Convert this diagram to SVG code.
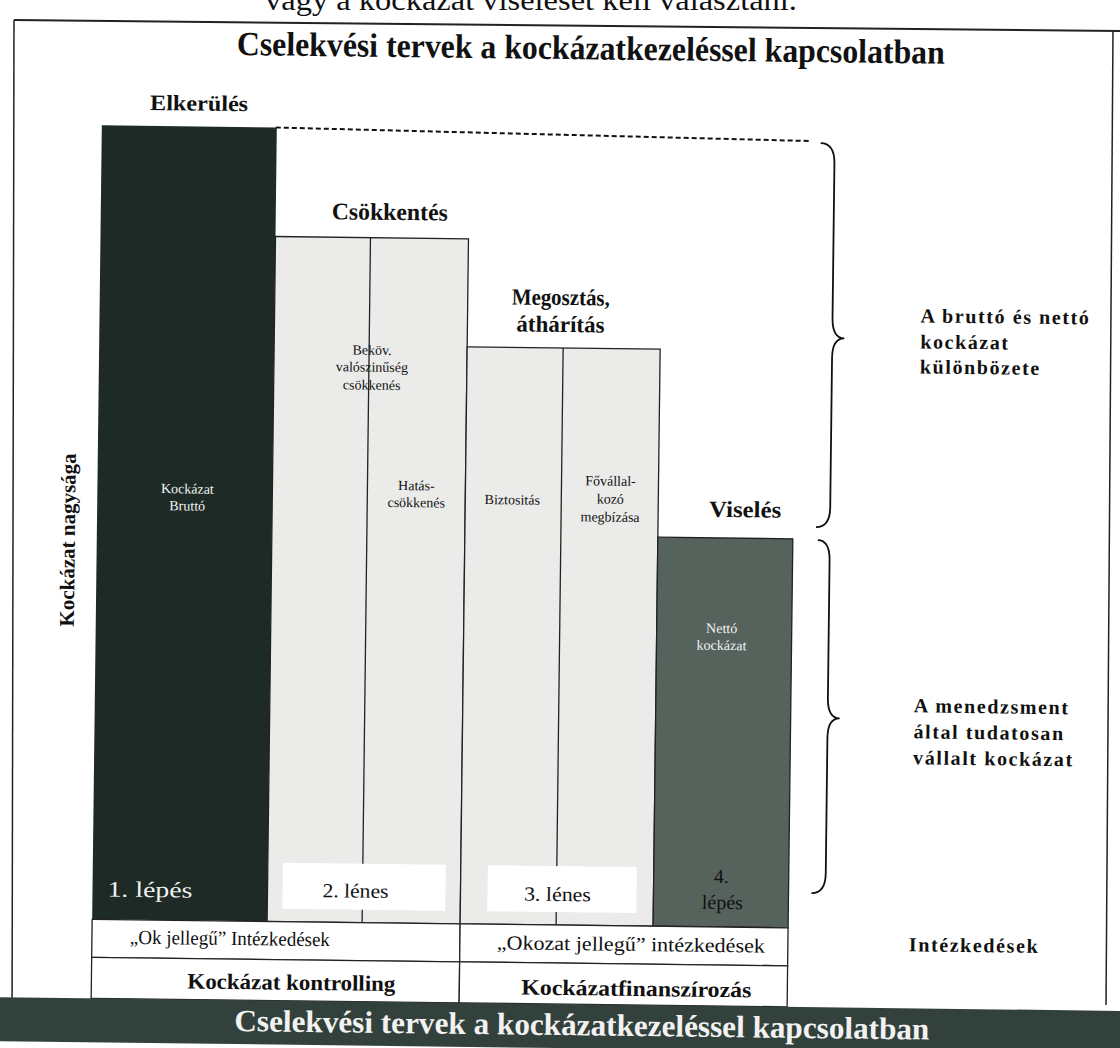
<svg xmlns="http://www.w3.org/2000/svg" width="1120" height="1048" viewBox="0 0 1120 1048">
<style>
  text { font-family: "Liberation Serif", "Times New Roman", serif; fill: #111; }
  .b { font-weight: bold; }
  .w { fill: #f2f2f2; }
  .bar-light { fill: #ebebea; stroke: #222; stroke-width: 1.3; }
  .cell { fill: #fff; stroke: #222; stroke-width: 1.3; }
  .brace { fill: none; stroke: #111; stroke-width: 1.8; }
  .mid { text-anchor: middle; }
  .rl { font-weight: bold; font-size: 20px; letter-spacing: 1.6px; }
</style>
<rect x="0" y="0" width="1120" height="1048" fill="#fff"/>
<text x="265" y="10" font-size="30" textLength="532" lengthAdjust="spacingAndGlyphs">vagy a kockázat viselését kell választani.</text>
<g id="frame">
  <line x1="14" y1="20" x2="1120" y2="31" stroke="#222" stroke-width="2"/>
  <line x1="14" y1="20" x2="12" y2="1040" stroke="#222" stroke-width="1.5"/>
  <line x1="1113" y1="31" x2="1106" y2="1005" stroke="#222" stroke-width="1.5"/>
</g>
<g transform="rotate(0.7 560 524)">
  <g id="title"><text class="b mid" x="585" y="59" font-size="34" textLength="708" lengthAdjust="spacingAndGlyphs">Cselekvési tervek a kockázatkezeléssel kapcsolatban</text></g>
  <g id="axis-label"><text class="b mid" transform="translate(75 546) rotate(-90)" font-size="21">Kockázat nagysága</text></g>
  <g id="label-elkerules"><text class="b" x="145" y="115" font-size="22" textLength="98" lengthAdjust="spacingAndGlyphs">Elkerülés</text></g>
  <g id="connectors">
    <line x1="271" y1="131" x2="805" y2="138" stroke="#111" stroke-width="2" stroke-dasharray="5 3"/>
    <path class="brace" d="M816,140 Q830,140 830,160 L830,315 Q830,335 842,335 Q830,335 830,355 L830,504 Q830,524 816,524"/>
    <path class="brace" d="M818,537 Q830,537 830,557 L830,695 Q830,715 842,715 Q830,715 830,735 L830,870 Q830,890 816,890"/>
  </g>
  <g id="bar-brutto">
    <rect x="97" y="131" width="175" height="794" fill="#1e2a26"/>
    <text class="w mid" x="187" y="498" font-size="14">Kockázat</text>
    <text class="w mid" x="187" y="515" font-size="14">Bruttó</text>
    <text class="w" x="112" y="902" font-size="22" textLength="85" lengthAdjust="spacingAndGlyphs">1. lépés</text>
  </g>
  <g id="bar-csokkentes">
    <text class="b mid" x="386" y="222" font-size="24" textLength="116" lengthAdjust="spacingAndGlyphs">Csökkentés</text>
    <rect class="bar-light" x="272" y="240" width="193" height="685"/>
    <line x1="367" y1="240" x2="367" y2="925" stroke="#222" stroke-width="1.3"/>
    <text class="mid" x="370" y="357" font-size="14">Beköv.</text>
    <text class="mid" x="370" y="374" font-size="14">valószinűség</text>
    <text class="mid" x="370" y="392" font-size="14">csökkenés</text>
    <text class="mid" x="416" y="492" font-size="14">Hatás-</text>
    <text class="mid" x="416" y="509" font-size="14">csökkenés</text>
    <rect x="287" y="866" width="163" height="46" fill="#fff"/>
    <text class="mid" x="360" y="900" font-size="20" textLength="66" lengthAdjust="spacingAndGlyphs">2. lénes</text>
  </g>
  <g id="bar-megosztas">
    <text class="b mid" x="558" y="305" font-size="23" textLength="98" lengthAdjust="spacingAndGlyphs">Megosztás,</text>
    <text class="b mid" x="558" y="332" font-size="23" textLength="88" lengthAdjust="spacingAndGlyphs">áthárítás</text>
    <rect class="bar-light" x="465" y="348" width="193" height="577"/>
    <line x1="561" y1="348" x2="561" y2="925" stroke="#222" stroke-width="1.3"/>
    <text class="mid" x="512" y="505" font-size="14">Biztositás</text>
    <text class="mid" x="610" y="485" font-size="14">Fővállal-</text>
    <text class="mid" x="610" y="503" font-size="14">kozó</text>
    <text class="mid" x="610" y="521" font-size="14">megbízása</text>
    <rect x="492" y="866" width="149" height="46" fill="#fff"/>
    <text class="mid" x="562" y="901" font-size="20" textLength="67" lengthAdjust="spacingAndGlyphs">3. lénes</text>
  </g>
  <g id="bar-viseles">
    <text class="b mid" x="745" y="515" font-size="23" textLength="72" lengthAdjust="spacingAndGlyphs">Viselés</text>
    <rect x="658" y="536" width="135" height="389" fill="#56635d" stroke="#222" stroke-width="1.3"/>
    <text class="w mid" x="723" y="631" font-size="14">Nettó</text>
    <text class="w mid" x="723" y="648" font-size="14">kockázat</text>
    <text x="718" y="881" font-size="20" fill="#1a1a1a">4.</text>
    <text class="mid" x="727" y="907" font-size="20" fill="#1a1a1a">lépés</text>
  </g>
  <g id="table">
    <rect class="cell" x="97" y="925" width="368" height="38"/>
    <rect class="cell" x="465" y="925" width="328" height="38"/>
    <rect class="cell" x="97" y="963" width="368" height="41"/>
    <rect class="cell" x="465" y="963" width="328" height="41"/>
    <text x="135" y="949" font-size="20" textLength="200" lengthAdjust="spacingAndGlyphs">„Ok jellegű” Intézkedések</text>
    <text x="502" y="950" font-size="20" textLength="268" lengthAdjust="spacingAndGlyphs">„Okozat jellegű” intézkedések</text>
    <text class="b mid" x="297" y="993" font-size="22" textLength="208" lengthAdjust="spacingAndGlyphs">Kockázat kontrolling</text>
    <text class="b mid" x="642" y="995" font-size="22" textLength="230" lengthAdjust="spacingAndGlyphs">Kockázatfinanszírozás</text>
  </g>
  <g id="right-labels">
    <text class="rl" x="918" y="318">A bruttó és nettó</text>
    <text class="rl" x="918" y="344">kockázat</text>
    <text class="rl" x="918" y="369">különbözete</text>
    <text class="rl" x="916" y="708">A menedzsment</text>
    <text class="rl" x="916" y="734">által tudatosan</text>
    <text class="rl" x="916" y="760">vállalt kockázat</text>
    <text class="rl" x="914" y="947" letter-spacing="1.2">Intézkedések</text>
  </g>
  <g id="bottom-band">
    <rect x="-10" y="1004" width="1140" height="44" fill="#33413c"/>
    <text class="b mid w" x="588" y="1035" font-size="31" textLength="695" lengthAdjust="spacingAndGlyphs">Cselekvési tervek a kockázatkezeléssel kapcsolatban</text>
  </g>
</g>
</svg>
